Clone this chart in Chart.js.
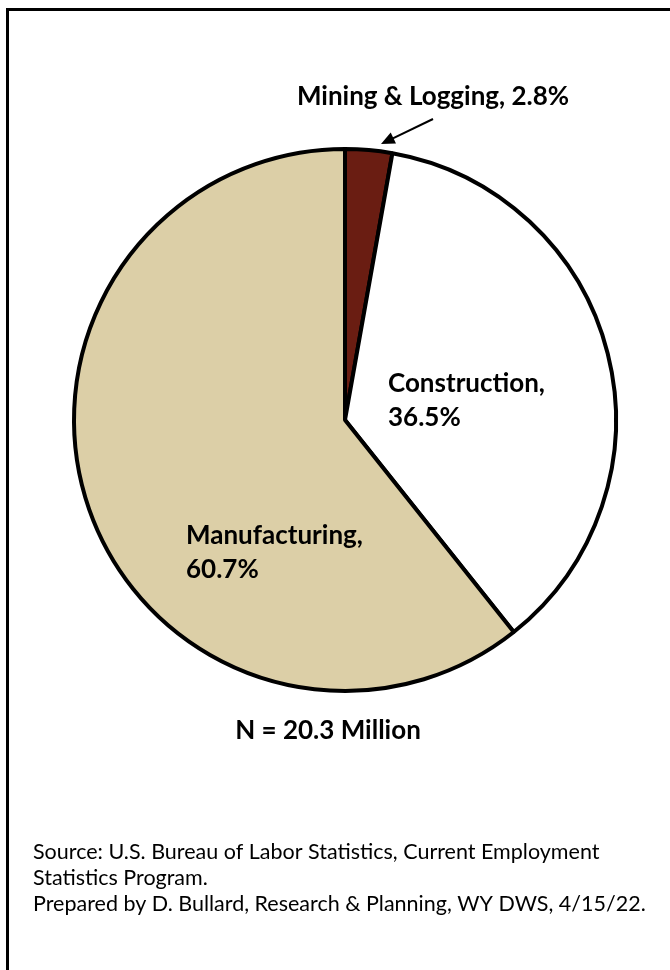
<!DOCTYPE html>
<html>
<head>
<meta charset="utf-8">
<script src="https://cdn.jsdelivr.net/npm/chart.js@4.4.1/dist/chart.umd.min.js"></script>
<style>
    html, body { margin: 0; padding: 0; background: #ffffff; overflow: hidden; }
    #wrap { position: relative; width: 670px; height: 970px; }
    #frame {
        position: absolute; left: 6px; top: 8px; width: 700px; height: 1000px;
        border: 3px solid #000000; box-sizing: border-box;
    }
    #pie { position: absolute; left: 0; top: 0; }
</style>
</head>
<body>
<div id="wrap">
    <div id="frame"></div>
    <canvas id="pie" width="670" height="970"></canvas>
</div>
<script>
// Share of goods-producing employment by supersector
const sectors = ['Mining & Logging', 'Construction', 'Manufacturing'];
const shares = [2.8, 36.5, 60.7];
const totalJobs = '20.3 Million';
const sourceLines = [
    'Source: U.S. Bureau of Labor Statistics, Current Employment',
    'Statistics Program.',
    'Prepared by D. Bullard, Research & Planning, WY DWS, 4/15/22.'
];
const sliceColors = ['#6a1d12', '#ffffff', '#dccfa7'];

const BOLD = 'bold 26px Lato, "Open Sans", sans-serif';
const PLAIN = '21.5px Lato, "Open Sans", sans-serif';

// label placement per slice
const labelSpots = [
    { x: 433, y: 97, align: 'center', split: false },
    { x: 388, y: 384, align: 'left', split: true },
    { x: 186, y: 536, align: 'left', split: true }
];

const sliceLabels = {
    id: 'sliceLabels',
    afterDatasetsDraw(chart) {
        const ctx = chart.ctx;
        ctx.save();
        ctx.fillStyle = '#000000';
        ctx.font = BOLD;
        ctx.textBaseline = 'middle';
        sectors.forEach((name, i) => {
            const spot = labelSpots[i];
            const value = shares[i].toFixed(1) + '%';
            ctx.textAlign = spot.align;
            if (spot.split) {
                ctx.fillText(name + ',', spot.x, spot.y);
                ctx.fillText(value, spot.x, spot.y + 34);
            } else {
                ctx.fillText(name + ', ' + value, spot.x, spot.y);
            }
        });

        // pointer for the small slice
        const x1 = 433, y1 = 119, x2 = 381, y2 = 144;
        const ang = Math.atan2(y2 - y1, x2 - x1);
        ctx.strokeStyle = '#000000';
        ctx.lineWidth = 2;
        ctx.beginPath();
        ctx.moveTo(x1, y1);
        ctx.lineTo(x2 - 8 * Math.cos(ang), y2 - 8 * Math.sin(ang));
        ctx.stroke();
        ctx.beginPath();
        ctx.moveTo(x2, y2);
        ctx.lineTo(x2 - 15 * Math.cos(ang - 0.42), y2 - 15 * Math.sin(ang - 0.42));
        ctx.lineTo(x2 - 15 * Math.cos(ang + 0.42), y2 - 15 * Math.sin(ang + 0.42));
        ctx.closePath();
        ctx.fill();

        // total and source notes
        ctx.textAlign = 'center';
        ctx.fillText('N = ' + totalJobs, 328, 731);
        ctx.font = PLAIN;
        ctx.textAlign = 'left';
        sourceLines.forEach((line, i) => ctx.fillText(line, 33, 852 + i * 26));
        ctx.restore();
    }
};

new Chart(document.getElementById('pie'), {
    type: 'pie',
    data: {
        labels: sectors,
        datasets: [{
            data: shares,
            backgroundColor: sliceColors,
            borderColor: '#000000',
            borderWidth: 4
        }]
    },
    options: {
        responsive: false,
        animation: false,
        layout: { padding: { left: 72, right: 52, top: 147, bottom: 277 } },
        plugins: {
            legend: { display: false },
            tooltip: { enabled: false }
        }
    },
    plugins: [sliceLabels]
});
</script>
</body>
</html>
